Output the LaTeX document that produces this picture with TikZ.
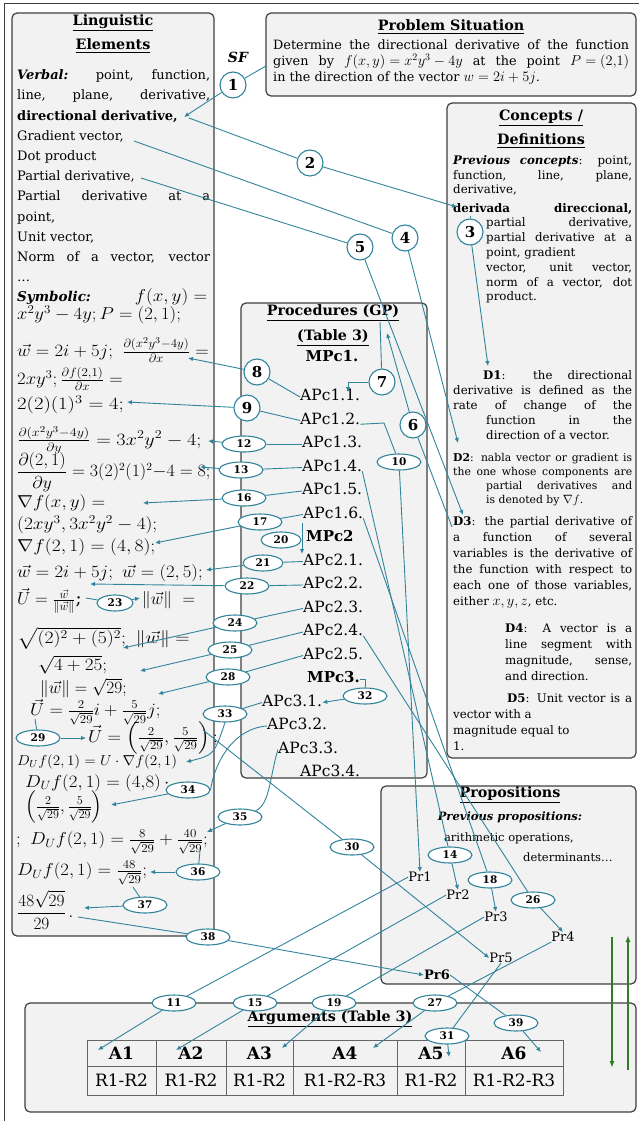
\documentclass[tikz,border=0pt]{standalone}
\usepackage{amsmath,amssymb}
\usepackage{graphicx}
\usepackage{fontspec}
\setmainfont{DejaVu Serif}
\usepackage{tikz}
\usetikzlibrary{arrows.meta,shapes.geometric}
\definecolor{linkblue}{HTML}{31849B}
\definecolor{boxgray}{HTML}{F2F2F2}
\definecolor{edgegray}{HTML}{3F3F3F}
\definecolor{arrgreen}{HTML}{2E7D23}
\newcommand{\jl}[2]{\makebox[#1pt][s]{#2}}
\newcommand{\mth}[1]{\mbox{\fontsize{14.5}{15}\selectfont$#1$}}
\newcommand{\sw}[2]{\scalebox{#1}[1]{#2}}
\tikzset{
  box/.style={draw=edgegray,line width=1.2pt,fill=boxgray,rounded corners=5pt},
  ttl/.style={inner sep=0pt,font=\fontsize{14.3}{17}\selectfont\bfseries},
  lx/.style={anchor=west,inner sep=0pt,text height=9.5pt,text depth=3pt,font=\fontsize{13}{16}\selectfont},
  sx/.style={anchor=west,inner sep=0pt,font=\fontsize{18}{22}\selectfont},
  cx/.style={anchor=west,inner sep=0pt,text height=8.8pt,text depth=3pt,font=\fontsize{11.8}{14}\selectfont},
  dx/.style={cx,font=\fontsize{10.8}{13}\selectfont},
  px/.style={anchor=west,inner sep=0pt,text height=9pt,text depth=3pt,font=\fontsize{12.8}{15}\selectfont},
  ap/.style={anchor=west,inner sep=0pt,text height=11pt,text depth=3.5pt,font=\fontsize{15.5}{18}\selectfont},
  mp/.style={ap,font=\fontsize{15}{18}\selectfont\bfseries},
  pr/.style={inner sep=0pt,font=\fontsize{13}{15}\selectfont},
  num/.style={circle,draw=linkblue,line width=1.1pt,fill=white,inner sep=0pt,minimum size=26pt,font=\fontsize{15}{15}\selectfont\bfseries},
  ell/.style={ellipse,draw=linkblue,line width=1.1pt,fill=white,inner sep=0pt,minimum width=44pt,minimum height=16pt,font=\fontsize{10.5}{10.5}\selectfont\bfseries},
  lnk/.style={draw=linkblue,line width=0.9pt},
  arr/.style={lnk,-{Latex[length=5pt,width=4.5pt]}},
  garr/.style={draw=arrgreen,line width=1.4pt,-{Latex[length=7pt,width=5pt]}},
  tcell/.style={draw=edgegray!80,line width=0.7pt,fill=boxgray,inner sep=0pt,font=\fontsize{17}{19}\selectfont}
}
\begin{document}
\begin{tikzpicture}[x=1pt,y=-1pt]
\useasboundingbox (0,0) rectangle (639,1121);
\draw[edgegray,line width=1pt] (4,4) rectangle (660,1140);
\draw[box] (12,13) rectangle (214,936);
\draw[box] (266,13) rectangle (636,96);
\draw[box] (447,103) rectangle (636,758);
\draw[box] (241,303) rectangle (427,778);
\draw[box] (381,786) rectangle (636,984);
\draw[box] (25,1003) rectangle (636,1112);

\node[ttl] (pst) at (451,27) {\underline{Problem Situation}};
\node[px] (ps1) at (273,47) {\jl{356}{Determine the directional derivative of the function}};
\node[px] (ps2) at (273,63) {\jl{356}{given by \mth{f(x,y)=x^2y^3-4y} at the point \mth{P=(2{,}1)}}};
\node[px] (ps3) at (273,79) {in the direction of the vector \mth{w=2i+5j}.};
\node[inner sep=0pt,font=\fontsize{14}{14}\selectfont\bfseries\itshape] (sf) at (238,57) {SF};

\node[ttl] (le1) at (113,23) {\underline{Linguistic}};
\node[ttl] (le2) at (113,46) {\underline{Elements}};
\node[lx] (v1) at (17,76) {\jl{193}{\textbf{\textit{Verbal:}} point, function,}};
\node[lx] (v2) at (17,96) {\jl{193}{line, plane, derivative,}};
\node[lx] (v3) at (17,117) {\textbf{directional derivative,}};
\node[lx] (v4) at (17,137) {Gradient vector,};
\node[lx] (v5) at (17,157) {Dot product};
\node[lx] (v6) at (17,177) {Partial derivative,};
\node[lx] (v7) at (17,197) {\jl{193}{Partial derivative at a}};
\node[lx] (v8) at (17,218) {point,};
\node[lx] (v9) at (17,238) {Unit vector,};
\node[lx] (v10) at (17,258) {\jl{193}{Norm of a vector, vector}};
\node[lx] (v11) at (17,278) {…};
\node[sx] (s1) at (17,297) {\makebox[190pt][l]{{\fontsize{13.5}{16}\selectfont\textbf{\textit{Symbolic:}}}\hfill\sw{1.1}{$f(x,y)=$}}};
\node[sx] (s2) at (17,315) {\sw{1.08}{$x^2y^3-4y; P=(2,1);$}};
\node[sx] (s3) at (17,350) {\sw{1.08}{$\vec{w}=2i+5j;\ \frac{\partial(x^2y^3-4y)}{\partial x}=$}};
\node[sx] (s4) at (17,379) {\sw{1.08}{$2xy^3; \frac{\partial f(2,1)}{\partial x}=$}};
\node[sx] (s5) at (17,405) {\sw{1.2}{$2(2)(1)^3=4;$}};
\node[sx] (s6) at (17,440) {\sw{1.17}{$\frac{\partial(x^2y^3-4y)}{\partial y}=3x^2y^2-4;$}};
\node[sx,font=\fontsize{16}{20}\selectfont] (s7) at (17,472) {\sw{1.04}{$\dfrac{\partial(2,1)}{\partial y}=3(2)^2(1)^2{-}4=8;$}};
\node[sx] (s8) at (17,503) {\sw{1.1}{$\nabla f(x,y)=$}};
\node[sx] (s9) at (17,525) {\sw{1.12}{$(2xy^3,3x^2y^2-4);$}};
\node[sx] (s10) at (17,547) {\sw{1.13}{$\nabla f(2,1)=(4,8);$}};
\node[sx] (s11) at (17,573) {\sw{1.08}{$\vec{w}=2i+5j;\ \vec{w}=(2,5);$}};
\node[sx] (s12) at (17,601) {$\vec{U}=\frac{\vec{w}}{\|\vec{w}\|}$;};
\node[sx] (s13) at (142,600) {$\|\vec{w}\|\ =$};
\node[sx] (s14) at (17,638) {\sw{1.14}{$\sqrt{(2)^2+(5)^2};\ \|\vec{w}\|=$}};
\node[sx] (s15) at (38,665) {\sw{1.1}{$\sqrt{4+25};$}};
\node[sx] (s16) at (40,688) {$\|\vec{w}\|=\sqrt{29};$};
\node[sx] (s17) at (30,712) {\sw{1.07}{$\vec{U}=\frac{2}{\sqrt{29}}i+\frac{5}{\sqrt{29}}j;$}};
\node[sx] (s18) at (88,738) {\sw{1.08}{$\vec{U}=\left(\frac{2}{\sqrt{29}},\frac{5}{\sqrt{29}}\right);$}};
\node[sx,font=\fontsize{14.5}{18}\selectfont] (s19) at (17,762) {\sw{1.05}{$D_U f(2,1)=U\cdot\nabla f(2,1)$}};
\node[sx] (s20) at (25,783) {\sw{1.09}{$D_U f(2,1)=(4{,}8)\,\cdot$}};
\node[sx] (s21) at (25,807) {$\left(\frac{2}{\sqrt{29}},\frac{5}{\sqrt{29}}\right)$};
\node[sx] (s22) at (16,842) {\sw{1.08}{$;\ D_U f(2,1)=\frac{8}{\sqrt{29}}+\frac{40}{\sqrt{29}};$}};
\node[sx] (s23) at (17,873) {\sw{1.08}{$D_U f(2,1)=\frac{48}{\sqrt{29}};$}};
\node[sx] (s24) at (17,910) {$\dfrac{48\sqrt{29}}{29}\,.$};

\node[ttl] (cd1) at (541,118) {\underline{Concepts /}};
\node[ttl] (cd2) at (541,141) {\underline{Definitions}};
\node[cx] (c1) at (453,162) {\jl{179}{\textbf{\textit{Previous concepts}}: point,}};
\node[cx] (c2) at (453,177) {\jl{179}{function, line, plane,}};
\node[cx] (c3) at (453,191) {derivative,};
\node[cx] (c4) at (453,210) {\jl{179}{\textbf{derivada direccional,}}};
\node[cx] (c5) at (486,224) {\jl{146}{partial derivative,}};
\node[cx] (c6) at (486,239) {\jl{146}{partial derivative at a}};
\node[cx] (c7) at (486,254) {point, gradient};
\node[cx] (c8) at (486,269) {\jl{146}{vector, unit vector,}};
\node[cx] (c9) at (486,284) {\jl{146}{norm of a vector, dot}};
\node[cx] (c10) at (486,298) {product.};
\node[cx] (d11) at (483,377) {\jl{149}{\textbf{D1}: the directional}};
\node[cx] (d12) at (453,392) {\jl{179}{derivative is defined as the}};
\node[cx] (d13) at (453,407) {\jl{179}{rate of change of the}};
\node[cx] (d14) at (486,422) {\jl{146}{function in the}};
\node[cx] (d15) at (486,437) {direction of a vector.};
\node[dx] (d21) at (453,459) {\jl{179}{\textbf{D2}: nabla vector or gradient is}};
\node[dx] (d22) at (453,473) {\jl{179}{the one whose components are}};
\node[dx] (d23) at (486,487) {\jl{146}{partial derivatives and}};
\node[dx] (d24) at (486,501) {is denoted by \mbox{\fontsize{13}{14}\selectfont$\nabla f$}.};
\node[cx] (d31) at (453,523) {\jl{179}{\textbf{D3}: the partial derivative of}};
\node[cx] (d32) at (453,539) {\jl{179}{a function of several}};
\node[cx] (d33) at (453,555) {\jl{179}{variables is the derivative of}};
\node[cx] (d34) at (453,571) {\jl{179}{the function with respect to}};
\node[cx] (d35) at (453,587) {\jl{179}{each one of those variables,}};
\node[cx] (d36) at (453,603) {either \mbox{\fontsize{13.5}{14}\selectfont$x, y, z$}, etc.};
\node[cx] (d41) at (505,630) {\jl{127}{\textbf{D4}: A vector is a}};
\node[cx] (d42) at (505,646) {\jl{127}{line segment with}};
\node[cx] (d43) at (505,662) {\jl{127}{magnitude, sense,}};
\node[cx] (d44) at (505,678) {and direction.};
\node[cx] (d51) at (507,700) {\jl{125}{\textbf{D5}: Unit vector is a}};
\node[cx] (d52) at (453,716) {vector with a};
\node[cx] (d53) at (453,732) {magnitude equal to};
\node[cx] (d54) at (453,748) {1.};

\node[ttl] (pg1) at (333,313) {\underline{Procedures (GP)}};
\node[ttl] (pg2) at (333,338) {\underline{(Table 3)}};
\node[mp,anchor=center] (mpc1) at (332,358) {MPc1.};
\node[ap] (apc11) at (300,397) {APc1.1.};
\node[ap] (apc12) at (300,420.5) {APc1.2.};
\node[ap] (apc13) at (302,444) {APc1.3.};
\node[ap] (apc14) at (302,467.5) {APc1.4.};
\node[ap] (apc15) at (302,491) {APc1.5.};
\node[ap] (apc16) at (303,514.5) {APc1.6.};
\node[mp] (mpc2) at (306,538) {MPc2};
\node[ap] (apc21) at (303,561.5) {APc2.1.};
\node[ap] (apc22) at (303,585) {APc2.2.};
\node[ap] (apc23) at (303,608.5) {APc2.3.};
\node[ap] (apc24) at (303,632) {APc2.4.};
\node[ap] (apc25) at (303,655.5) {APc2.5.};
\node[mp] (mpc3) at (307,679) {MPc3.};
\node[ap] (apc31) at (262,702.5) {APc3.1.};
\node[ap] (apc32) at (267,726) {APc3.2.};
\node[ap] (apc33) at (278,749.5) {APc3.3.};
\node[ap] (apc34) at (300,773) {APc3.4.};

\node[ttl] (pp0) at (510,795) {\underline{Propositions}};
\node[inner sep=0pt,font=\fontsize{11.5}{13}\selectfont\bfseries\itshape] (pp1) at (510,817) {Previous propositions:};
\node[inner sep=0pt,font=\fontsize{11.5}{13}\selectfont] (pp2) at (509,838) {arithmetic operations,};
\node[inner sep=0pt,anchor=west,font=\fontsize{11.5}{13}\selectfont] (pp3) at (523,857) {determinants…};
\node[pr] (pr1) at (420,877) {Pr1};
\node[pr] (pr2) at (458,895) {Pr2};
\node[pr] (pr3) at (496,917) {Pr3};
\node[pr] (pr4) at (563,937) {Pr4};
\node[pr] (pr5) at (501,958) {Pr5};
\node[pr,font=\fontsize{13}{15}\selectfont\bfseries] (pr6) at (437,975) {Pr6};

\node[ttl] (ar0) at (330,1019) {\underline{Arguments (Table 3)}};
\node[tcell,minimum width=69pt,minimum height=26pt] (a1) at (121.5,1053) {\textbf{A1}};
\node[tcell,minimum width=70pt,minimum height=26pt] (a2) at (191,1053) {\textbf{A2}};
\node[tcell,minimum width=67pt,minimum height=26pt] (a3) at (259.5,1053) {\textbf{A3}};
\node[tcell,minimum width=104pt,minimum height=26pt] (a4) at (345,1053) {\textbf{A4}};
\node[tcell,minimum width=68pt,minimum height=26pt] (a5) at (431,1053) {\textbf{A5}};
\node[tcell,minimum width=98pt,minimum height=26pt] (a6) at (514,1053) {\textbf{A6}};
\node[tcell,minimum width=69pt,minimum height=29pt] (r1) at (121.5,1080.5) {R1-R2};
\node[tcell,minimum width=70pt,minimum height=29pt] (r2) at (191,1080.5) {R1-R2};
\node[tcell,minimum width=67pt,minimum height=29pt] (r3) at (259.5,1080.5) {R1-R2};
\node[tcell,minimum width=104pt,minimum height=29pt] (r4) at (345,1080.5) {R1-R2-R3};
\node[tcell,minimum width=68pt,minimum height=29pt] (r5) at (431,1080.5) {R1-R2};
\node[tcell,minimum width=98pt,minimum height=29pt] (r6) at (514,1080.5) {R1-R2-R3};

\node[num] (n1) at (233,85) {1};
\node[num] (n2) at (310,163) {2};
\node[num] (n3) at (470,232) {3};
\node[num] (n4) at (405,238) {4};
\node[num] (n5) at (360,247) {5};
\node[num] (n6) at (413,425) {6};
\node[num] (n7) at (382,382) {7};
\node[num] (n8) at (257,372) {8};
\node[num] (n9) at (247,408) {9};
\node[ell] (e10) at (399,462) {10};
\node[ell] (e11) at (174,1003) {11};
\node[ell] (e12) at (244,444) {12};
\node[ell] (e13) at (241,470) {13};
\node[ell] (e14) at (450,855) {14};
\node[ell] (e15) at (255,1003) {15};
\node[ell] (e16) at (244,498) {16};
\node[ell] (e17) at (260,522) {17};
\node[ell] (e18) at (490,880) {18};
\node[ell] (e19) at (334,1003) {19};
\node[ell,minimum width=40pt] (e20) at (281,540) {20};
\node[ell,minimum width=40pt] (e21) at (263,563) {21};
\node[ell] (e22) at (247,586) {22};
\node[ell,minimum width=36pt] (e23) at (115,603) {23};
\node[ell] (e24) at (235,623) {24};
\node[ell] (e25) at (230,650) {25};
\node[ell] (e26) at (533,900) {26};
\node[ell] (e27) at (435,1003) {27};
\node[ell] (e28) at (228,677) {28};
\node[ell] (e29) at (38,738) {29};
\node[ell] (e30) at (352,847) {30};
\node[ell] (e31) at (447,1036) {31};
\node[ell] (e32) at (365,696) {32};
\node[ell] (e33) at (225,714) {33};
\node[ell] (e34) at (188,790) {34};
\node[ell] (e35) at (240,817) {35};
\node[ell] (e36) at (198,872) {36};
\node[ell] (e37) at (145,905) {37};
\node[ell] (e38) at (208,937) {38};
\node[ell] (e39) at (516,1023) {39};

\coordinate (psl) at (266,66);
\coordinate (t1) at (184,117);
\coordinate (s2) at (189,118);
\coordinate (t2) at (457,207);
\coordinate (s3) at (470,216);
\coordinate (t3) at (488,366);
\coordinate (s4) at (134,141);
\coordinate (t4) at (458,443);
\coordinate (s5) at (141,178);
\coordinate (t5) at (463,515);
\coordinate (s6) at (452,527);
\coordinate (t6) at (387,333);
\coordinate (s7) at (380,322);
\coordinate (t7) at (348,392);
\coordinate (t8) at (188,358);
\coordinate (t9) at (127,402);
\coordinate (c10) at (384,423);
\coordinate (t12) at (208,441);
\coordinate (t13) at (200,467);
\coordinate (t16) at (143,503);
\coordinate (t17) at (155,543);
\coordinate (c20a) at (302,523);
\coordinate (c20m) at (302,540);
\coordinate (c20b) at (302,554);
\coordinate (t21) at (206,570);
\coordinate (t22) at (90,584);
\coordinate (s23) at (86,598);
\coordinate (t23) at (140,598);
\coordinate (t24) at (123,648);
\coordinate (t25) at (140,671);
\coordinate (t28) at (158,694);
\coordinate (s29) at (35,719);
\coordinate (t29) at (86,738);
\coordinate (s30) at (203,730);
\coordinate (t33) at (186,762);
\coordinate (t34) at (111,805);
\coordinate (t35) at (207,832);
\coordinate (s36) at (200,851);
\coordinate (t36) at (150,872);
\coordinate (s37) at (133,887);
\coordinate (t37) at (84,908);
\coordinate (s38) at (78,917);
\coordinate (ta1) at (98,1050);
\coordinate (ta2) at (176,1050);
\coordinate (ta3) at (282,1048);
\coordinate (ta4) at (373,1048);
\coordinate (ta5) at (449,1057);
\coordinate (ta6) at (541,1052);
\coordinate (g1) at (612,937);
\coordinate (g2) at (612,1068);
\coordinate (g3) at (628,1070);
\coordinate (g4) at (628,935);

\draw[lnk] (psl) -- (n1); \draw[arr] (n1) -- (t1);
\draw[lnk] (s2) -- (n2); \draw[arr] (n2) -- (t2);
\draw[lnk] (s3) -- (n3); \draw[arr] (n3) -- (t3);
\draw[lnk] (s4) -- (n4); \draw[arr] (n4) -- (t4);
\draw[lnk] (s5) -- (n5); \draw[arr] (n5) -- (t5);
\draw[lnk] (s6) -- (n6); \draw[arr] (n6) -- (t6);
\draw[lnk] (s7) -- (n7); \draw[arr] (n7.west) -| (t7);
\draw[lnk] (apc11.west) -- (n8); \draw[arr] (n8) -- (t8);
\draw[lnk] (apc12.west) -- (n9); \draw[arr] (n9) -- (t9);
\draw[lnk] (apc12.base east) -- (c10) -- (e10); \draw[arr] (e10) -- (pr1.north);
\draw[lnk] (apc13.west) -- (e12); \draw[arr] (e12) -- (t12);
\draw[lnk] (apc14.west) -- (e13); \draw[arr] (e13) -- (t13);
\draw[lnk] (apc14.base east) -- (e14); \draw[arr] (e14) -- (pr2.north);
\draw[lnk] (apc15.west) -- (e16); \draw[arr] (e16) -- (t16);
\draw[lnk] (apc16.west) -- (e17); \draw[arr] (e17) -- (t17);
\draw[lnk] (apc16.base east) -- (e18); \draw[arr] (e18) -- (pr3.north);
\draw[arr] (c20a) -- (c20b); \draw[lnk] (e20) -- (c20m);
\draw[lnk] (apc21.west) -- (e21); \draw[arr] (e21) -- (t21);
\draw[lnk] (apc22.west) -- (e22); \draw[arr] (e22) -- (t22);
\draw[lnk] (s23) -- (e23); \draw[arr] (e23) -- (t23);
\draw[lnk] (apc23.west) -- (e24); \draw[arr] (e24) -- (t24);
\draw[lnk] (apc24.west) -- (e25); \draw[arr] (e25) -- (t25);
\draw[lnk] (apc24.base east) -- (e26); \draw[arr] (e26) -- (pr4.north);
\draw[lnk] (apc25.west) -- (e28); \draw[arr] (e28) -- (t28);
\draw[lnk] (s29) -- (e29); \draw[arr] (e29) -- (t29);
\draw[lnk] (s30) -- (e30); \draw[arr] (e30) -- (pr5.west);
\draw[lnk] (mpc3.east) -| (e32.north); \draw[arr] (e32) -- (apc31.east);
\draw[lnk] (apc31.west) -- (e33); \draw[arr] (e33.south) .. controls (214,755) .. (t33);
\draw[lnk] (apc32.west) .. controls (235,728) and (215,760) .. (e34.east); \draw[arr] (e34) -- (t34);
\draw[lnk] (apc33.west) .. controls (270,775) and (270,805) .. (e35); \draw[arr] (e35) -- (t35);
\draw[lnk] (s36) -- (e36); \draw[arr] (e36) -- (t36);
\draw[lnk] (s37) -- (e37); \draw[arr] (e37) -- (t37);
\draw[lnk] (s38) -- (e38); \draw[arr] (e38) -- (pr6.west);
\draw[lnk] (pr1.west) -- (e11); \draw[arr] (e11) -- (ta1);
\draw[lnk] (pr2.west) -- (e15); \draw[arr] (e15) -- (ta2);
\draw[lnk] (pr3.west) -- (e19); \draw[arr] (e19) -- (ta3);
\draw[lnk] (pr4.south west) -- (e27); \draw[arr] (e27) -- (ta4);
\draw[lnk] (pr5.south) -- (e31); \draw[arr] (e31) -- (ta5);
\draw[lnk] (pr6.east) -- (e39); \draw[arr] (e39) -- (ta6);
\draw[garr] (g1) -- (g2);
\draw[garr] (g3) -- (g4);
\end{tikzpicture}
\end{document}
